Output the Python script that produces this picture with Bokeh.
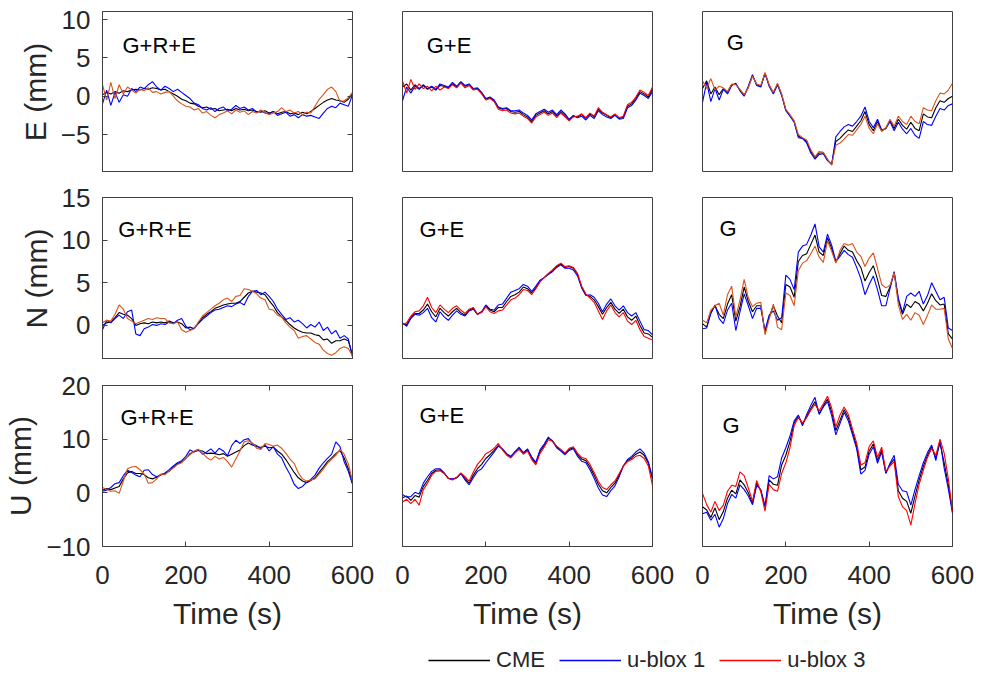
from bokeh.plotting import figure
from bokeh.layouts import column, row
from bokeh.models import (LinearAxis, FixedTicker, Label, Legend, LegendItem, Range1d,
                          CustomLabelingPolicy)
from bokeh.embed import file_html
from bokeh.resources import INLINE

# ---------------- data ----------------
time_s = list(range(0, 601, 10))

series_names = ["CME", "u-blox 1", "u-blox 3"]
modes = ["G+R+E", "G+E", "G"]
components = ["E (mm)", "N (mm)", "U (mm)"]
x_ticks = [0, 200, 400, 600]
y_ticks_E = [-5, 0, 5, 10]
y_ticks_N = [0, 5, 10, 15]
y_ticks_U = [-10, 0, 10, 20]

# E component
e_gre_cme = [0.2,0.5,0.3,0.6,0.4,0.7,0.6,0.8,0.9,0.8,
             1.0,0.9,1.1,1.0,0.8,0.9,0.6,0.3,0.0,-0.4,
             -0.6,-0.9,-1.0,-1.3,-1.5,-1.4,-1.7,-1.6,-1.9,-1.8,
             -1.7,-1.9,-1.6,-1.8,-1.7,-1.9,-1.8,-2.0,-2.1,-1.9,
             -2.2,-2.0,-2.3,-2.1,-2.0,-2.3,-2.2,-2.4,-2.1,-2.3,
             -2.0,-1.6,-1.2,-0.8,-0.5,-0.3,-0.5,-0.6,-0.8,-0.4,
             0.3]
e_gre_ub1 = [-1.0,0.8,-1.2,0.5,-0.8,0.2,0.0,1.0,0.6,1.2,
             1.0,1.5,1.9,1.2,0.8,1.3,1.0,0.6,0.9,0.5,
             0.1,-0.3,-0.9,-1.1,-1.6,-1.8,-1.5,-2.0,-1.6,-1.4,
             -1.9,-1.7,-1.2,-1.6,-1.4,-1.8,-1.6,-2.1,-1.9,-2.2,
             -2.3,-2.0,-2.5,-2.3,-2.1,-2.6,-2.4,-2.8,-2.4,-2.6,
             -2.5,-2.7,-2.9,-2.2,-1.6,-1.3,-1.5,-0.9,-1.1,-1.3,
             0.2]
e_gre_ub3 = [1.5,-0.5,1.8,-0.3,1.5,0.3,1.2,0.8,0.4,0.9,
             0.7,1.1,0.5,0.6,0.3,0.5,0.6,0.0,-0.6,-1.0,
             -1.3,-1.4,-1.8,-1.6,-2.2,-2.0,-2.5,-2.8,-2.4,-2.2,
             -1.9,-2.3,-1.8,-2.1,-1.9,-2.4,-2.0,-2.2,-1.8,-2.1,
             -2.4,-2.2,-2.0,-1.5,-2.0,-1.8,-2.2,-2.0,-2.4,-2.1,
             -2.2,-1.3,-0.4,0.2,0.9,1.2,0.6,-0.7,-0.6,-0.2,
             0.5]
e_ge_cme = [1.2,1.6,0.8,1.5,1.0,1.4,0.9,1.2,0.8,1.4,
            1.3,1.1,1.6,1.2,1.8,1.3,1.5,0.9,1.0,0.4,
            -0.4,-0.2,-0.6,-1.5,-1.7,-1.6,-2.0,-2.1,-2.0,-2.4,
            -2.7,-3.3,-2.5,-2.2,-1.9,-2.3,-2.0,-2.6,-2.0,-2.5,
            -3.1,-2.6,-2.7,-2.4,-2.9,-2.3,-2.7,-1.7,-2.2,-2.5,
            -2.8,-2.4,-2.9,-2.7,-1.3,-1.0,-0.3,0.6,0.3,-0.1,
            0.9]
e_ge_ub1 = [-0.6,1.2,0.4,1.3,0.9,1.5,1.0,1.3,0.9,1.6,
            1.4,1.2,1.8,1.3,1.9,1.4,1.6,1.0,1.1,0.5,
            -0.3,-0.1,-0.5,-1.4,-1.6,-1.5,-1.9,-1.9,-1.8,-2.2,
            -2.5,-3.1,-2.3,-2.0,-1.7,-2.1,-1.8,-2.4,-1.8,-2.3,
            -3.0,-2.5,-2.8,-2.6,-3.1,-2.5,-2.9,-1.9,-2.4,-2.7,
            -2.9,-2.5,-3.0,-2.9,-1.5,-1.2,-0.5,0.4,0.1,-0.3,
            0.6]
e_ge_ub3 = [2.0,0.4,2.2,0.9,1.6,1.0,1.3,0.7,1.3,0.8,
            1.2,1.0,1.5,1.1,1.7,1.1,1.4,0.8,0.9,0.3,
            -0.5,-0.3,-0.7,-1.7,-1.9,-1.8,-2.2,-2.3,-2.2,-2.6,
            -2.9,-3.5,-2.7,-2.4,-2.1,-2.5,-2.2,-2.8,-2.2,-2.7,
            -3.2,-2.7,-2.6,-2.3,-2.8,-2.2,-2.6,-1.5,-2.1,-2.4,
            -2.7,-2.3,-2.8,-2.6,-1.1,-0.8,-0.1,0.8,0.5,0.1,
            1.2]
e_g_cme = [1.0,2.0,0.3,1.2,0.2,1.0,0.5,1.5,1.6,0.8,
           0.1,1.2,2.7,1.5,1.3,3.0,1.4,0.4,1.6,0.2,
           -1.8,-2.5,-3.3,-5.2,-5.5,-5.9,-7.2,-8.0,-7.4,-7.4,
           -8.3,-8.9,-5.9,-5.5,-4.9,-4.4,-4.6,-3.9,-3.2,-2.0,
           -3.7,-4.5,-3.3,-4.5,-4.2,-3.2,-4.2,-3.0,-3.8,-4.3,
           -3.4,-4.2,-4.5,-2.3,-2.7,-2.8,-1.5,-0.6,-0.8,-0.3,
           0.0]
e_g_ub1 = [-0.8,1.8,-0.7,1.0,-0.5,0.9,0.3,1.4,1.7,0.7,
           0.0,1.3,2.8,1.4,1.2,3.0,1.3,0.3,1.5,0.1,
           -1.9,-2.6,-3.4,-5.4,-5.5,-6.1,-7.4,-8.2,-7.6,-7.5,
           -8.4,-8.9,-5.3,-4.6,-4.0,-3.7,-3.9,-3.3,-2.6,-1.4,
           -3.3,-4.1,-3.0,-4.4,-4.2,-3.3,-4.5,-3.4,-4.3,-4.9,
           -4.2,-5.1,-5.5,-3.3,-3.7,-3.8,-2.6,-1.6,-1.8,-1.2,
           -1.0]
e_g_ub3 = [2.0,1.0,2.3,0.8,1.3,1.1,0.6,1.6,1.5,0.9,
           0.2,1.1,2.6,1.6,1.4,3.1,1.5,0.5,1.7,0.3,
           -1.7,-2.4,-3.2,-5.0,-5.4,-5.7,-7.0,-7.9,-7.2,-7.3,
           -8.2,-9.0,-6.4,-6.1,-5.6,-5.0,-5.1,-4.4,-3.7,-2.6,
           -4.2,-4.9,-3.6,-4.6,-4.1,-3.0,-3.9,-2.6,-3.3,-3.7,
           -2.6,-3.3,-3.6,-1.5,-1.8,-1.9,-0.6,0.4,0.3,0.8,
           1.7]

# N component
n_gre_cme = [0.0,0.3,0.4,0.9,1.5,1.3,1.2,0.8,0.0,0.2,
             0.3,0.2,0.4,0.3,0.4,0.3,0.5,0.3,0.4,0.2,
             -0.3,-0.2,-0.4,0.3,0.9,1.3,1.6,2.0,2.2,2.4,
             2.5,2.6,2.6,2.8,3.3,3.8,4.0,3.9,3.8,3.6,
             2.9,2.3,1.5,1.0,0.6,0.1,-0.3,-0.6,-0.8,-0.9,
             -0.9,-1.1,-1.2,-1.7,-1.6,-2.1,-1.8,-1.8,-1.6,-1.8,
             -3.5]
n_gre_ub1 = [-0.5,0.6,0.3,0.8,1.2,0.8,1.6,1.8,-1.0,-1.2,
             -0.4,-0.2,0.1,0.0,0.2,0.1,0.4,0.2,0.6,0.8,
             -0.1,-0.5,-0.3,0.2,0.7,1.1,1.5,1.8,1.9,2.1,
             2.3,2.2,2.5,2.7,2.4,3.4,4.0,4.1,3.6,3.9,
             3.4,2.8,1.9,1.3,0.7,0.9,0.4,0.6,0.2,-0.3,
             0.1,-0.2,0.4,-0.6,-0.2,-1.0,-0.6,-1.5,-1.2,-1.6,
             -3.7]
n_gre_ub3 = [0.3,0.6,0.5,1.3,2.4,1.9,0.8,0.5,0.2,0.4,
             0.6,0.8,0.7,0.9,0.8,0.8,0.3,0.2,0.4,-0.5,
             -0.8,-0.6,-0.4,0.4,1.1,1.5,1.9,2.3,2.6,3.0,
             3.2,2.8,3.4,3.5,4.3,4.2,4.0,3.7,3.2,3.0,
             1.9,1.8,1.2,1.0,0.3,-0.2,-0.6,-1.5,-1.3,-1.2,
             -1.6,-2.0,-2.2,-2.9,-3.3,-3.5,-3.2,-2.7,-2.5,-2.7,
             -3.6]
n_ge_cme = [0.2,0.1,0.9,1.4,1.4,1.8,2.5,1.6,1.0,2.0,
            1.5,1.1,1.6,2.0,1.5,1.2,1.8,2.0,1.3,1.6,
            2.3,1.8,1.6,2.1,2.1,2.8,3.4,3.6,3.9,4.5,
            4.3,3.8,4.4,5.2,5.6,6.0,6.4,6.9,7.2,6.8,
            6.9,6.7,6.0,4.5,3.6,3.4,3.0,2.2,1.3,2.1,
            2.7,1.9,1.4,1.9,1.0,0.6,1.1,0.0,-0.9,-1.0,
            -1.4]
n_ge_ub1 = [0.3,-0.1,0.8,1.3,1.2,1.5,2.0,0.9,0.4,1.6,
            1.0,0.6,1.2,1.7,1.3,1.1,1.7,1.9,1.3,1.6,
            2.4,1.9,1.8,2.4,2.5,3.2,3.9,4.1,4.3,4.8,
            4.6,4.0,4.6,5.3,5.6,6.0,6.3,6.8,7.1,6.7,
            6.7,6.5,5.8,4.4,3.5,3.6,3.3,2.6,1.6,2.5,
            3.1,2.3,1.8,2.3,1.5,1.1,1.5,0.5,-0.5,-0.6,
            -1.1]
n_ge_ub3 = [0.1,0.3,1.1,1.6,1.7,2.3,3.3,2.1,1.5,2.4,
            1.9,1.5,2.0,2.3,1.8,1.4,1.9,2.1,1.3,1.5,
            2.2,1.6,1.4,1.7,1.8,2.4,3.0,3.2,3.6,4.2,
            4.1,3.6,4.3,5.1,5.6,6.1,6.5,7.0,7.3,6.9,
            7.0,6.8,6.1,4.6,3.7,3.2,2.7,1.7,0.7,1.7,
            2.4,1.5,1.0,1.5,0.5,0.1,0.6,-0.5,-1.3,-1.5,
            -1.7]
n_g_cme = [0.2,-0.2,1.5,2.3,1.3,0.8,2.5,3.6,0.5,2.2,
           4.5,2.8,1.6,2.3,2.3,-0.8,1.0,2.3,1.1,0.3,
           4.8,4.5,3.3,7.5,8.2,8.4,9.5,10.6,8.6,8.2,
           10.3,9.0,7.4,8.4,9.3,8.8,8.6,7.6,6.8,5.2,
           6.2,7.0,5.4,3.5,3.4,4.5,6.2,3.0,1.3,2.5,
           2.1,2.8,2.5,1.7,2.6,3.7,2.9,2.4,2.5,-1.0,
           -1.6]
n_g_ub1 = [-0.4,-0.3,1.4,2.4,0.8,0.2,1.8,2.6,-0.6,1.6,
           3.7,2.3,0.8,2.0,2.0,-0.6,1.2,1.7,0.6,0.9,
           5.9,5.4,4.2,8.6,9.3,9.5,10.6,11.9,9.2,8.6,
           10.7,9.4,7.5,8.1,8.8,8.3,8.0,6.8,5.5,3.6,
           4.8,5.8,4.2,2.3,2.3,4.3,6.3,3.2,1.5,3.4,
           3.8,3.4,4.0,2.5,3.5,5.0,4.0,3.0,3.3,-0.3,
           -0.6]
n_g_ub3 = [0.6,0.3,1.8,2.3,2.6,1.2,3.6,4.6,1.0,3.0,
           5.4,3.2,2.2,2.6,2.7,-1.1,0.7,2.5,-0.2,-0.5,
           3.8,3.5,2.3,6.4,7.3,7.6,8.4,9.3,8.0,7.4,
           9.9,8.7,7.3,8.8,9.6,9.4,9.6,8.6,8.1,6.9,
           7.9,8.5,6.7,4.8,4.4,4.7,6.2,2.4,0.7,1.3,
           0.6,1.5,1.2,0.1,1.2,2.4,1.9,1.9,2.0,-1.6,
           -2.7]

# U component
u_gre_cme = [0.5,0.8,0.6,0.9,1.2,2.6,3.7,4.0,3.6,3.6,
             3.4,2.8,2.6,2.9,3.4,3.6,4.0,4.8,5.4,5.8,
             6.4,7.3,7.7,7.9,7.8,7.3,7.4,7.3,7.1,7.3,
             6.8,7.2,7.6,8.0,8.8,9.3,8.9,8.6,8.5,8.7,
             8.4,8.5,7.8,7.2,6.2,5.0,3.8,2.8,2.2,1.9,
             2.3,2.8,3.8,4.8,5.8,6.5,7.3,7.9,6.5,4.5,
             1.8]
u_gre_ub1 = [0.3,0.5,1.0,1.7,1.9,3.2,4.2,3.8,3.3,3.0,
             4.2,4.3,3.4,3.0,3.3,3.7,4.3,5.0,5.6,6.0,
             6.8,8.0,7.6,8.1,7.2,7.6,8.2,7.4,8.3,7.8,
             6.9,8.8,9.8,9.2,9.9,10.1,9.1,8.8,8.2,9.0,
             7.8,8.6,7.2,6.5,4.8,3.4,1.6,0.8,1.2,2.0,
             2.5,3.3,4.6,5.6,6.4,7.2,9.5,8.6,5.8,4.0,
             1.6]
u_gre_ub3 = [1.0,0.6,0.3,0.4,-0.1,2.2,4.5,4.8,4.9,4.3,
             3.5,1.8,1.9,2.6,3.5,3.4,4.1,4.6,5.3,5.6,
             6.5,7.1,7.8,8.1,7.4,6.6,6.1,6.8,6.3,6.6,
             5.8,4.8,6.3,7.8,9.5,9.7,9.3,8.3,8.1,9.2,
             9.0,8.7,8.9,8.3,7.4,6.3,5.5,3.7,2.6,2.2,
             2.4,2.6,3.5,4.4,5.5,6.3,7.0,8.1,7.2,5.4,
             2.2]
u_ge_cme = [-0.9,-0.6,-1.4,-0.5,-0.8,1.2,2.3,3.6,4.2,4.3,
            3.7,2.7,2.5,2.8,3.6,2.7,1.8,3.3,4.5,5.3,
            6.4,7.1,7.9,8.8,8.1,7.2,6.7,7.6,8.3,7.4,
            8.0,6.5,5.5,7.7,8.8,10.2,9.7,8.6,7.9,7.2,
            8.1,8.4,7.1,6.3,6.0,4.8,3.3,1.6,0.4,0.0,
            1.0,1.8,3.3,5.0,6.0,6.5,7.2,7.6,7.0,5.5,
            2.6]
u_ge_ub1 = [-0.3,-0.8,-0.7,0.1,-0.2,1.8,3.0,4.0,4.5,4.5,
            3.7,2.7,2.6,2.8,3.6,2.4,1.5,2.8,4.0,4.5,
            5.6,6.6,7.6,8.7,8.2,7.3,6.8,7.7,8.5,7.5,
            8.2,6.7,5.7,8.0,9.1,10.4,9.6,8.4,7.8,7.1,
            7.9,8.2,6.8,5.9,5.6,4.3,2.7,0.9,-0.4,-0.7,
            0.4,1.3,3.0,5.0,6.2,6.8,7.6,8.2,7.4,5.8,
            2.8]
u_ge_ub3 = [-1.7,-1.2,-2.0,-1.2,-2.3,0.6,1.8,3.3,4.0,4.1,
            3.6,2.7,2.4,2.9,3.7,3.0,2.2,3.9,5.3,6.2,
            7.3,7.7,8.3,9.2,8.0,7.0,6.5,7.4,8.1,7.2,
            7.8,6.2,5.2,7.3,8.5,9.9,9.6,8.7,8.1,7.4,
            8.3,8.6,7.4,6.6,6.4,5.3,3.8,2.1,1.0,0.6,
            1.5,2.2,3.6,5.0,5.8,6.2,6.8,7.0,6.4,5.0,
            1.4]
u_g_cme = [-2.6,-3.2,-4.6,-2.8,-5.0,-3.5,-1.0,0.5,-0.2,2.4,
           1.5,0.0,-2.0,1.8,0.4,-2.6,2.4,1.6,1.4,5.2,
           7.0,9.6,13.0,14.3,12.8,14.2,15.7,17.0,14.8,16.2,
           17.5,15.1,11.6,13.5,15.5,14.0,11.3,8.7,4.3,4.8,
           7.8,9.1,6.0,8.0,3.7,5.3,6.3,0.4,-1.0,-1.6,
           -3.8,-0.6,2.4,4.9,7.0,8.6,6.5,9.3,5.6,1.5,
           -3.5]
u_g_ub1 = [-3.9,-3.6,-5.1,-4.0,-6.4,-4.8,-2.0,-0.3,-1.0,1.5,
           0.6,-0.6,-2.2,1.4,0.6,-2.5,3.2,2.6,3.0,6.5,
           8.4,10.6,13.4,14.5,12.5,14.6,16.3,17.8,14.6,16.0,
           17.0,14.4,10.8,12.9,15.0,13.4,10.8,8.2,3.5,4.2,
           7.2,8.6,5.5,7.6,3.6,5.5,7.0,1.6,0.4,0.2,
           -2.3,0.6,3.2,5.6,7.5,8.9,6.0,9.8,4.6,0.7,
           -3.8]
u_g_ub3 = [-0.1,-2.2,-3.6,-1.6,-3.3,-2.3,0.3,1.4,1.2,3.9,
           3.2,0.9,-1.6,2.3,0.2,-3.4,1.6,0.6,0.3,3.6,
           5.6,8.4,12.5,14.1,13.0,14.0,15.4,16.5,15.3,16.6,
           18.0,15.8,12.3,14.5,16.0,14.6,11.9,9.3,5.2,5.6,
           8.6,9.7,6.6,8.5,4.0,5.0,5.8,-0.7,-2.6,-3.3,
           -6.0,-2.0,1.6,4.2,6.6,8.3,7.0,10.0,7.4,2.6,
           -3.4]

panel_data = [
    [(e_gre_cme, e_gre_ub1, e_gre_ub3), (e_ge_cme, e_ge_ub1, e_ge_ub3), (e_g_cme, e_g_ub1, e_g_ub3)],
    [(n_gre_cme, n_gre_ub1, n_gre_ub3), (n_ge_cme, n_ge_ub1, n_ge_ub3), (n_g_cme, n_g_ub1, n_g_ub3)],
    [(u_gre_cme, u_gre_ub1, u_gre_ub3), (u_ge_cme, u_ge_ub1, u_ge_ub3), (u_g_cme, u_g_ub1, u_g_ub3)],
]

# ---------------- style ----------------
FONT = "Liberation Sans"
TXT = "#262626"
BOX = "#404040"
BLACK = "#000000"
BLUE = "#0000FF"
RED = "#FF0000"
ORANGE = "#D95319"

y_ranges = [(-9.95, 11.05), (-4, 15), (-10, 20)]
y_tick_sets = [y_ticks_E, y_ticks_N, y_ticks_U]
third_colors = [[ORANGE, RED, ORANGE], [ORANGE, RED, ORANGE], [ORANGE, RED, RED]]
label_pos = [[(48, 6.6), (58, 6.6), (58, 7.0)],
             [(38, 11.25), (41, 11.25), (41, 11.4)],
             [(43, 14.0), (41, 14.4), (48, 12.5)]]

frame_h = [161, 162, 161]
top_b = [11, 25, 26]
bot_b = [0, 0, 90]
left_b = [102, 25, 25]
right_b = [25, 25, 36]

NO_LABELS = CustomLabelingPolicy(code="""
for (const i of indices) indices.unset(i)
return indices
""")


def style_axis(ax, labels=True):
    ax.axis_line_color = BOX
    ax.axis_line_width = 1
    ax.major_tick_line_color = BOX
    ax.major_tick_in = 5
    ax.major_tick_out = 0
    ax.minor_tick_line_color = None
    ax.major_label_text_font = FONT
    ax.major_label_text_color = TXT
    ax.axis_label_text_font = FONT
    ax.axis_label_text_color = TXT
    ax.axis_label_text_font_style = "normal"
    ax.axis_label_text_font_size = "30px"
    if labels:
        ax.major_label_text_font_size = "26px"
    else:
        ax.major_label_text_font_size = "1px"
        ax.major_label_standoff = 0
        ax.major_label_policy = NO_LABELS


def make_panel(r, c):
    p = figure(x_range=Range1d(0, 600), y_range=Range1d(*y_ranges[r]),
               frame_width=250, frame_height=frame_h[r],
               min_border_left=left_b[c], min_border_right=right_b[c],
               min_border_top=top_b[r], min_border_bottom=bot_b[r],
               x_axis_location=None, y_axis_location=None,
               toolbar_location=None, output_backend="svg",
               outline_line_color=BOX, outline_line_width=1,
               background_fill_color="white", border_fill_color="white")
    p.grid.visible = False
    cme, ub1, ub3 = panel_data[r][c]
    p.line(time_s, cme, line_color=BLACK, line_width=1.1)
    p.line(time_s, ub1, line_color=BLUE, line_width=1.1)
    p.line(time_s, ub3, line_color=third_colors[r][c], line_width=1.1)

    if c == 0:
        ya = LinearAxis(ticker=FixedTicker(ticks=y_tick_sets[r]), axis_label=components[r])
        style_axis(ya)
        ya.major_label_standoff = 12
        ya.axis_label_standoff = 6
        p.add_layout(ya, "left")
        yr = LinearAxis(ticker=FixedTicker(ticks=y_tick_sets[r]))
        style_axis(yr, labels=False)
        p.add_layout(yr, "right")
    if r == 2:
        xa = LinearAxis(ticker=FixedTicker(ticks=x_ticks), axis_label="Time (s)")
        style_axis(xa)
        xa.major_label_standoff = 19
        xa.axis_label_standoff = 10
        p.add_layout(xa, "below")
        xt = LinearAxis(ticker=FixedTicker(ticks=x_ticks))
        style_axis(xt, labels=False)
        p.add_layout(xt, "above")

    lx, ly = label_pos[r][c]
    p.add_layout(Label(x=lx, y=ly, text=modes[c], text_baseline="middle",
                       text_font=FONT, text_font_size="22px", text_color=BLACK))
    return p


rows = []
for r in range(3):
    rows.append(row(*[make_panel(r, c) for c in range(3)]))

lf = figure(width=988, height=40, x_range=(0, 1), y_range=(0, 1),
            x_axis_location=None, y_axis_location=None,
            toolbar_location=None, output_backend="svg",
            min_border=0, outline_line_color=None)
lf.grid.visible = False
r_cme = lf.line([5, 6], [5, 6], line_color=BLACK, line_width=1.5)
r_ub1 = lf.line([5, 6], [5, 6], line_color=BLUE, line_width=1.5)
r_ub3 = lf.line([5, 6], [5, 6], line_color=RED, line_width=1.5)
leg = Legend(items=[LegendItem(label=series_names[0], renderers=[r_cme]),
                    LegendItem(label=series_names[1], renderers=[r_ub1]),
                    LegendItem(label=series_names[2], renderers=[r_ub3])],
             orientation="horizontal", location=(428, 3), padding=0, margin=0,
             spacing=14, glyph_width=62, glyph_height=22, label_standoff=6,
             label_text_font=FONT, label_text_font_size="22px", label_text_color=TXT,
             label_text_baseline="middle",
             border_line_color=None, background_fill_alpha=0)
lf.add_layout(leg, "center")

layout = column(*rows, lf)
open("out.html", "w").write(file_html(layout, INLINE))
